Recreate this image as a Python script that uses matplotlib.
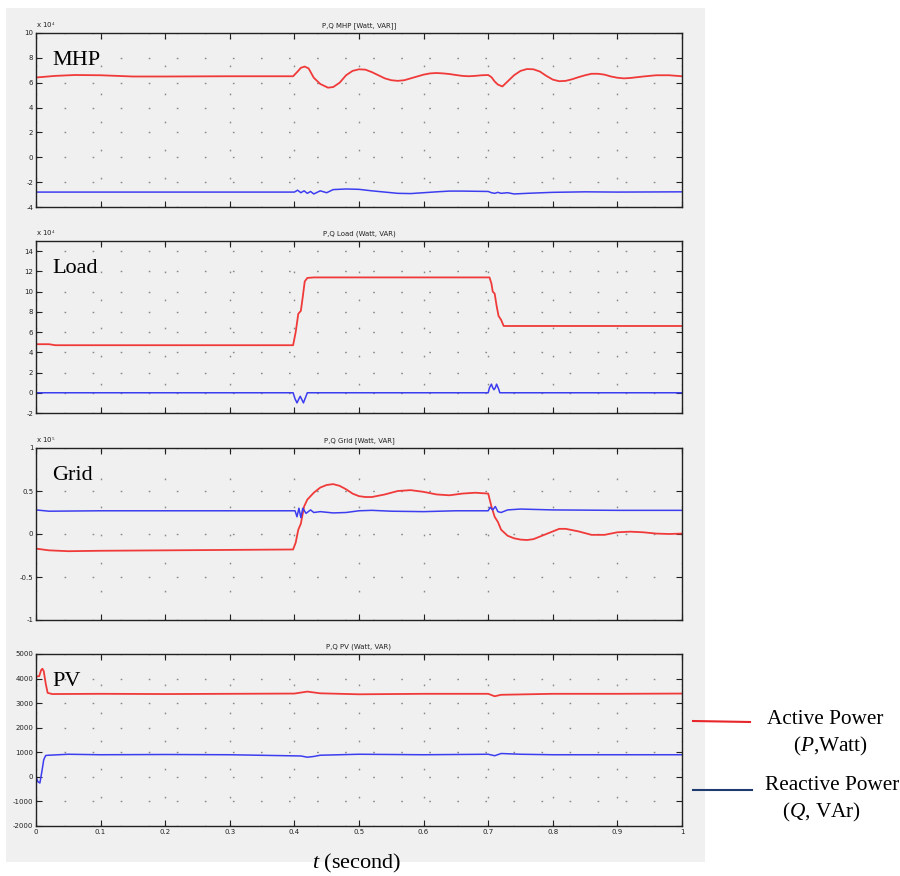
import matplotlib.pyplot as plt
from matplotlib.patches import Rectangle
from matplotlib.lines import Line2D

plt.rcParams["mathtext.fontset"] = "custom"
plt.rcParams["mathtext.rm"] = "Liberation Serif"
plt.rcParams["mathtext.it"] = "Liberation Serif:italic"

# ---- data ----
# MHP, values in x10^4
mhp_p_t = [0, 0.03, 0.06, 0.10, 0.15, 0.2, 0.3, 0.398, 0.405, 0.41, 0.416, 0.422, 0.43, 0.44,
           0.452, 0.46, 0.47, 0.48, 0.49, 0.5, 0.51, 0.52, 0.53, 0.54, 0.55, 0.56, 0.57, 0.58,
           0.59, 0.6, 0.61, 0.62, 0.63, 0.64, 0.65, 0.66, 0.67, 0.68, 0.69, 0.70, 0.705, 0.71,
           0.715, 0.722, 0.73, 0.74, 0.75, 0.76, 0.77, 0.78, 0.79, 0.80, 0.81, 0.82, 0.83, 0.84,
           0.85, 0.86, 0.87, 0.88, 0.89, 0.9, 0.91, 0.92, 0.94, 0.96, 0.98, 1.0]
mhp_p = [6.42, 6.55, 6.62, 6.6, 6.5, 6.5, 6.52, 6.52, 6.9, 7.2, 7.3, 7.15, 6.4, 5.9,
         5.6, 5.65, 6.0, 6.6, 6.95, 7.08, 7.05, 6.85, 6.6, 6.35, 6.2, 6.15, 6.2, 6.35,
         6.5, 6.65, 6.75, 6.78, 6.75, 6.7, 6.62, 6.55, 6.52, 6.55, 6.6, 6.62, 6.45, 6.1,
         5.85, 5.7, 6.1, 6.6, 6.95, 7.1, 7.08, 6.9, 6.55, 6.25, 6.12, 6.15, 6.28, 6.45,
         6.6, 6.72, 6.72, 6.65, 6.5, 6.4, 6.35, 6.38, 6.5, 6.6, 6.6, 6.52]
mhp_q_t = [0, 0.2, 0.4, 0.405, 0.41, 0.415, 0.42, 0.425, 0.43, 0.44, 0.45, 0.46, 0.48, 0.5,
           0.52, 0.54, 0.56, 0.58, 0.6, 0.62, 0.64, 0.66, 0.7, 0.705, 0.71, 0.715, 0.72, 0.73,
           0.74, 0.76, 0.8, 0.85, 0.9, 1.0]
mhp_q = [-2.8, -2.8, -2.8, -2.65, -2.85, -2.7, -2.9, -2.75, -2.95, -2.7, -2.85, -2.6, -2.55, -2.58,
         -2.7, -2.8, -2.9, -2.92, -2.85, -2.78, -2.72, -2.72, -2.75, -2.85, -2.9, -2.82, -2.9, -2.85,
         -2.95, -2.9, -2.82, -2.78, -2.8, -2.78]

# Load, values in x10^4
load_p_t = [0, 0.02, 0.03, 0.398, 0.402, 0.406, 0.41, 0.413, 0.416, 0.42, 0.43,
            0.702, 0.705, 0.707, 0.71, 0.713, 0.716, 0.72, 0.724, 1.0]
load_p = [4.8, 4.8, 4.7, 4.7, 6.0, 7.8, 8.1, 9.5, 11.0, 11.35, 11.4,
          11.4, 10.8, 10.0, 9.8, 8.6, 7.6, 7.2, 6.6, 6.6]
load_q_t = [0, 0.398, 0.401, 0.404, 0.407, 0.409, 0.411, 0.414, 0.417, 0.42, 0.70,
            0.702, 0.705, 0.707, 0.709, 0.711, 0.713, 0.716, 0.718, 1.0]
load_q = [0, 0, -0.6, -1.0, -0.6, -0.35, -0.6, -1.0, -0.5, 0, 0,
          0.5, 0.85, 0.5, 0.3, 0.5, 0.85, 0.4, 0, 0]

# Grid, values in x10^5
grid_p_t = [0, 0.02, 0.05, 0.1, 0.2, 0.3, 0.398, 0.402, 0.406, 0.41, 0.415, 0.42, 0.43, 0.44,
            0.45, 0.46, 0.47, 0.48, 0.49, 0.5, 0.51, 0.52, 0.54, 0.56, 0.58, 0.6, 0.62, 0.64,
            0.66, 0.68, 0.70, 0.705, 0.71, 0.715, 0.72, 0.73, 0.74, 0.75, 0.76, 0.77, 0.78,
            0.8, 0.81, 0.82, 0.84, 0.86, 0.88, 0.9, 0.92, 0.94, 0.96, 0.98, 1.0]
grid_p = [-0.17, -0.19, -0.2, -0.195, -0.19, -0.185, -0.18, -0.1, 0.05, 0.12, 0.32, 0.4, 0.48, 0.54,
          0.57, 0.58, 0.56, 0.52, 0.47, 0.44, 0.43, 0.43, 0.46, 0.5, 0.51, 0.49, 0.46, 0.45,
          0.47, 0.48, 0.47, 0.32, 0.2, 0.14, 0.05, -0.02, -0.05, -0.065, -0.07, -0.06, -0.03,
          0.03, 0.06, 0.06, 0.03, -0.01, -0.01, 0.02, 0.027, 0.02, 0.005, 0.0, 0.005]
grid_q_t = [0, 0.02, 0.1, 0.3, 0.401, 0.404, 0.407, 0.41, 0.413, 0.418, 0.425, 0.43, 0.44, 0.46,
            0.48, 0.5, 0.52, 0.55, 0.6, 0.65, 0.70, 0.703, 0.707, 0.711, 0.715, 0.72, 0.73,
            0.75, 0.8, 0.9, 1.0]
grid_q = [0.28, 0.265, 0.27, 0.27, 0.27, 0.2, 0.3, 0.19, 0.3, 0.24, 0.28, 0.25, 0.26, 0.245,
          0.25, 0.27, 0.275, 0.265, 0.26, 0.27, 0.27, 0.31, 0.28, 0.32, 0.26, 0.25, 0.28,
          0.29, 0.28, 0.275, 0.275]

# PV, values in W / VAr
pv_p_t = [0, 0.005, 0.008, 0.010, 0.012, 0.015, 0.018, 0.025, 0.1, 0.2, 0.3, 0.4, 0.41, 0.42,
          0.44, 0.5, 0.6, 0.7, 0.71, 0.72, 0.8, 0.9, 1.0]
pv_p = [4080, 4100, 4350, 4400, 4300, 3800, 3420, 3370, 3380, 3370, 3380, 3390, 3430, 3470,
        3400, 3360, 3380, 3380, 3280, 3340, 3380, 3380, 3390]
pv_q_t = [0, 0.003, 0.006, 0.009, 0.012, 0.015, 0.02, 0.05, 0.1, 0.2, 0.3, 0.41, 0.42, 0.43,
          0.44, 0.5, 0.6, 0.7, 0.71, 0.72, 0.75, 0.8, 0.9, 1.0]
pv_q = [0, -200, -250, 200, 700, 870, 880, 920, 900, 910, 900, 850, 800, 830,
        880, 920, 900, 920, 860, 950, 920, 900, 900, 900]

x_ticks = [0, 0.1, 0.2, 0.3, 0.4, 0.5, 0.6, 0.7, 0.8, 0.9, 1]
x_tick_labels = ["0", "0.1", "0.2", "0.3", "0.4", "0.5", "0.6", "0.7", "0.8", "0.9", "1"]

panels = [
    dict(name="MHP", title="P,Q MHP [Watt, VAR]]", expo="4",
         p=(mhp_p_t, mhp_p), q=(mhp_q_t, mhp_q), ylim=(-4, 10),
         yticks=[-4, -2, 0, 2, 4, 6, 8, 10]),
    dict(name="Load", title="P,Q Load (Watt, VAR)", expo="4",
         p=(load_p_t, load_p), q=(load_q_t, load_q), ylim=(-2, 15),
         yticks=[-2, 0, 2, 4, 6, 8, 10, 12, 14]),
    dict(name="Grid", title="P,Q Grid [Watt, VAR]", expo="5",
         p=(grid_p_t, grid_p), q=(grid_q_t, grid_q), ylim=(-1, 1),
         yticks=[-1, -0.5, 0, 0.5, 1]),
    dict(name="PV", title="P,Q PV (Watt, VAR)", expo=None,
         p=(pv_p_t, pv_p), q=(pv_q_t, pv_q), ylim=(-2000, 5000),
         yticks=[-2000, -1000, 0, 1000, 2000, 3000, 4000, 5000]),
]

RED = "#f03a3a"
BLUE = "#3d3df0"
BG = "#f0f0f0"
SERIF = ["Liberation Serif", "DejaVu Serif"]

fig = plt.figure(figsize=(9, 8.76), dpi=100)
fig.patches.append(Rectangle((6 / 900, 1 - 862 / 876), 699 / 900, 854 / 876,
                             transform=fig.transFigure, facecolor=BG, edgecolor="none", zorder=-5))

tops = [33, 241, 448, 654]
heights = [174, 172, 172, 172]
for panel, top, h in zip(panels, tops, heights):
    ax = fig.add_axes([36 / 900, 1 - (top + h) / 876, 646 / 900, h / 876])
    ax.set_facecolor(BG)
    ax.plot(*panel["p"], color=RED, lw=1.3)
    ax.plot(*panel["q"], color=BLUE, lw=1.1)
    ax.set_xlim(0, 1)
    ax.set_ylim(*panel["ylim"])
    ax.set_xticks(x_ticks)
    ax.set_yticks(panel["yticks"])
    ax.set_yticklabels([f"{v:g}" for v in panel["yticks"]])
    if panel["name"] == "PV":
        ax.set_xticklabels(x_tick_labels)
    else:
        ax.set_xticklabels([])
    ax.tick_params(direction="in", top=True, right=True, length=4, width=0.8,
                   labelsize=5, colors="#222222", pad=2)
    for s in ax.spines.values():
        s.set_linewidth(1.0)
        s.set_color("#222222")
    ax.grid(True, color="#888888", lw=1.0, linestyle=(0, (1.2, 19)))
    ax.set_title(panel["title"], fontsize=5, pad=4, color="#222222")
    if panel["expo"]:
        ax.text(0, 1.02, r"x 10$^{%s}$" % panel["expo"], transform=ax.transAxes,
                fontsize=5, ha="left", va="bottom", color="#222222")
    ax.text(0.025, 0.84, panel["name"], transform=ax.transAxes, family=SERIF,
            fontsize=16, ha="left", va="center")

# legend drawn to the right of the PV panel
fig.lines.append(Line2D([693 / 900, 750 / 900], [1 - 721 / 876, 1 - 722 / 876],
                        transform=fig.transFigure, color="#e8262a", lw=1.5))
fig.lines.append(Line2D([693 / 900, 752 / 900], [1 - 790 / 876, 1 - 790 / 876],
                        transform=fig.transFigure, color="#1f3a6e", lw=1.5))
fig.text(767 / 900, 1 - 720 / 876, "Active Power", family=SERIF, fontsize=15.3, va="center")
fig.text(793 / 900, 1 - 746 / 876, r"($\it{P}$,Watt)", family=SERIF, fontsize=15.3, va="center")
fig.text(765 / 900, 1 - 786 / 876, "Reactive Power", family=SERIF, fontsize=15.3, va="center")
fig.text(782 / 900, 1 - 812 / 876, r"($\it{Q}$, VAr)", family=SERIF, fontsize=15.3, va="center")
fig.text(357 / 900, 1 - 863 / 876, r"$\it{t}$ (second)", family=SERIF, fontsize=16,
         ha="center", va="center")

fig.savefig("out.png", dpi=100)
